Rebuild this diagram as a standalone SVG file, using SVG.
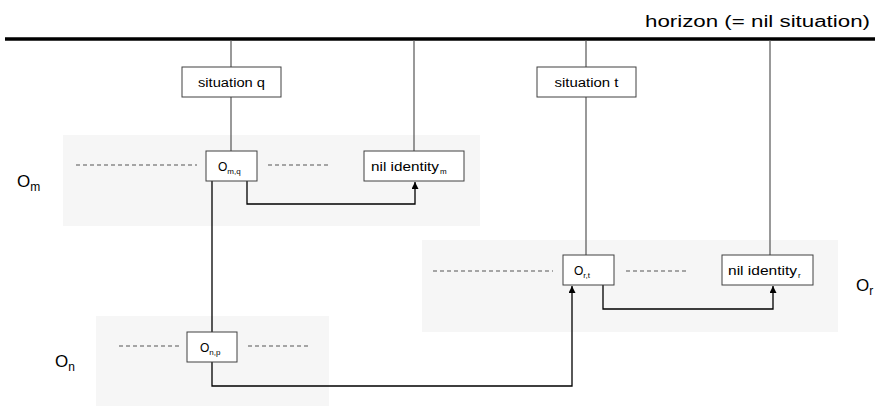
<svg xmlns="http://www.w3.org/2000/svg" width="875" height="406" viewBox="0 0 875 406">
<style>
.band{fill:#f6f6f6;stroke:none}
.box{fill:#fff;stroke:#404040;stroke-width:1}
.vl{stroke:#555;stroke-width:1.2;fill:none}
.con{stroke:#000;stroke-width:1.3;fill:none}
.dash{stroke:#555;stroke-width:1;stroke-dasharray:4,3;fill:none}
text{font-family:"Liberation Sans",Arial,sans-serif;fill:#000}
.t{font-size:12px;text-anchor:middle}
.big{font-size:17px}
</style>
<defs>
<marker id="arr" viewBox="0 0 10 10" refX="10" refY="5" markerWidth="7" markerHeight="7" markerUnits="userSpaceOnUse" orient="auto">
<path d="M0,0L10,5L0,10z" fill="#000"/>
</marker>
</defs>
<g id="bands">
<rect class="band" x="63" y="135" width="417" height="91"/>
<rect class="band" x="422" y="240" width="416" height="92"/>
<rect class="band" x="96" y="316" width="233" height="90"/>
</g>
<g id="horizon">
<line x1="5" y1="39" x2="875" y2="39" stroke="#000" stroke-width="3.5"/>
<text x="870" y="27" font-size="16" text-anchor="end" textLength="225" lengthAdjust="spacingAndGlyphs">horizon (= nil situation)</text>
</g>
<g id="connectors">
<line class="vl" x1="231" y1="40" x2="231" y2="67"/>
<line class="vl" x1="231" y1="97" x2="231" y2="151"/>
<line class="vl" x1="414" y1="40" x2="414" y2="151"/>
<line class="vl" x1="586" y1="40" x2="586" y2="67"/>
<line class="vl" x1="586" y1="97" x2="586" y2="255"/>
<line class="vl" x1="770" y1="40" x2="770" y2="255"/>
<line class="con" x1="212" y1="181" x2="212" y2="332"/>
<polyline class="con" points="247,181 247,204 415,204 415,182" marker-end="url(#arr)"/>
<polyline class="con" points="603,285 603,309 773,309 773,286" marker-end="url(#arr)"/>
<polyline class="con" points="212,362 212,386 572,386 572,286" marker-end="url(#arr)"/>
<line class="dash" x1="76" y1="165" x2="197" y2="165"/>
<line class="dash" x1="268" y1="165" x2="328" y2="165"/>
<line class="dash" x1="433" y1="271" x2="553" y2="271"/>
<line class="dash" x1="626" y1="271" x2="686" y2="271"/>
<line class="dash" x1="119" y1="346" x2="179" y2="346"/>
<line class="dash" x1="248" y1="346" x2="308" y2="346"/>
</g>
<g id="situation-q">
<rect class="box" x="182" y="67" width="99" height="30"/>
<text class="t" x="231.5" y="87" textLength="67" lengthAdjust="spacingAndGlyphs">situation q</text>
</g>
<g id="situation-t">
<rect class="box" x="537" y="67" width="99" height="30"/>
<text class="t" x="586.5" y="87" textLength="64" lengthAdjust="spacingAndGlyphs">situation t</text>
</g>
<g id="O-m-q">
<rect class="box" x="206" y="151" width="51" height="30"/>
<text x="218" y="171" font-size="12">O<tspan font-size="8" dy="3">m,q</tspan></text>
</g>
<g id="nil-identity-m">
<rect class="box" x="364" y="151" width="100" height="30"/>
<text x="371" y="171" font-size="12" textLength="68" lengthAdjust="spacingAndGlyphs">nil identity</text><text x="440" y="174" font-size="8">m</text>
</g>
<g id="O-r-t">
<rect class="box" x="563" y="255" width="51" height="30"/>
<text x="574" y="275" font-size="12">O<tspan font-size="8" dy="3">r,t</tspan></text>
</g>
<g id="nil-identity-r">
<rect class="box" x="722" y="255" width="91" height="30"/>
<text x="728" y="275" font-size="12" textLength="69" lengthAdjust="spacingAndGlyphs">nil identity</text><text x="798" y="278" font-size="8">r</text>
</g>
<g id="O-n-p">
<rect class="box" x="187" y="332" width="50" height="30"/>
<text x="200" y="352" font-size="12">O<tspan font-size="8" dy="3">n,p</tspan></text>
</g>
<g id="labels">
<text class="big" x="17" y="187">O<tspan font-size="12" dy="4">m</tspan></text>
<text class="big" x="856" y="291">O<tspan font-size="12" dy="4">r</tspan></text>
<text class="big" x="55" y="367">O<tspan font-size="12" dy="4">n</tspan></text>
</g>
</svg>
